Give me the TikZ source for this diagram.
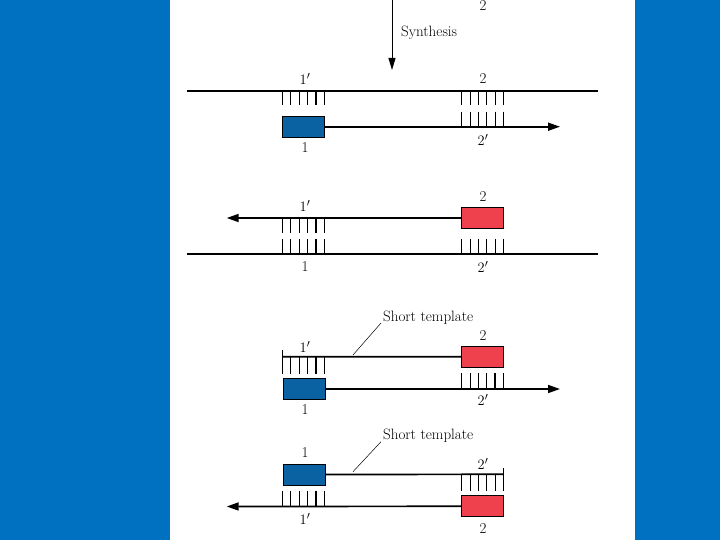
\documentclass[tikz,border=0pt]{standalone}
\usetikzlibrary{arrows.meta}
\definecolor{bgblue}{HTML}{0070C0}
\definecolor{boxblue}{HTML}{0A62A3}
\definecolor{boxred}{HTML}{EF414D}
\tikzset{
  strand/.style={line width=1.7pt},
  thin tk/.style={line width=0.7pt},
  thick tk/.style={line width=1.6pt},
  arr/.style={-{Triangle[length=12pt,width=8pt]}},
  lbl/.style={font=\fontsize{15}{17}\selectfont, inner sep=0pt},
  bbox/.style={draw=black, fill=boxblue, minimum width=42pt, minimum height=21pt, inner sep=0pt, line width=0.7pt},
  rbox/.style={draw=black, fill=boxred, minimum width=42pt, minimum height=21pt, inner sep=0pt, line width=0.7pt},
  leader/.style={line width=0.5pt}
}
\begin{document}
\begin{tikzpicture}[x=1pt,y=-1pt]
\useasboundingbox (0,0) rectangle (720,540);
\fill[bgblue] (0,0) rectangle (720,540);
\fill[white] (170,0) rectangle (635,540);

% ---------- Section 1 ----------
\node[lbl] (top2) at (483,6) {2};
\coordinate (s0) at (392,0);
\coordinate (s1) at (392,70);
\draw[line width=1pt,-{Triangle[length=12pt,width=7pt]}] (s0) -- (s1);
\node[lbl,anchor=west] (synth) at (401,33) {Synthesis};

\coordinate (aL) at (187,90.7);
\coordinate (aR) at (598,90.7);
\draw[strand] (aL) -- (aR);
\node[lbl] (a1p) at (305,79) {$1'$};
\node[lbl] (a2) at (483,79) {2};
\foreach \i/\s in {0/thin tk,1/thin tk,2/thin tk,3/thick tk,4/thick tk,5/thin tk}
  \draw[\s] (282.3+\i*8.4,90.7) -- (282.3+\i*8.4,105);
\foreach \i in {0,...,5}
  \draw[thin tk] (461.7+\i*8.33,90.7) -- (461.7+\i*8.33,105);
\foreach \i in {0,...,5}
  \draw[thin tk] (461.7+\i*8.33,112) -- (461.7+\i*8.33,126.7);
\node[bbox] (b1) at (303.3,126.7) {};
\coordinate (a1end) at (560,126.7);
\draw[strand,arr] (b1.east) -- (a1end);
\node[lbl] (a2p) at (483,140) {$2'$};
\node[lbl] (a1) at (305,148) {1};

% ---------- Section 2 ----------
\node[lbl] (c2) at (483,197) {2};
\node[rbox] (r2) at (482.5,218) {};
\coordinate (c2end) at (226.7,218);
\draw[strand,arr] (r2.west) -- (c2end);
\node[lbl] (c1p) at (305,206) {$1'$};
\foreach \i/\s in {0/thin tk,1/thin tk,2/thin tk,3/thick tk,4/thick tk,5/thin tk}{
  \draw[\s] (282.3+\i*8.4,218) -- (282.3+\i*8.4,233.3);
  \draw[\s] (282.3+\i*8.4,239) -- (282.3+\i*8.4,254.3);}
\foreach \i in {0,...,5}
  \draw[thin tk] (461.7+\i*8.33,239) -- (461.7+\i*8.33,254.3);
\coordinate (cL) at (187,254.3);
\coordinate (cR) at (598,254.3);
\draw[strand] (cL) -- (cR);
\node[lbl] (c1) at (305,267) {1};
\node[lbl] (c2p) at (483,267) {$2'$};

% ---------- Section 3 ----------
\node[lbl,anchor=west] (st3) at (383,318) {Short template};
\coordinate (l3a) at (381,323);
\coordinate (l3b) at (353,355);
\draw[leader] (l3a) -- (l3b);
\node[lbl] (d2) at (483,336) {2};
\node[lbl] (d1p) at (305,347) {$1'$};
\node[rbox] (r3) at (482.5,356.8) {};
\coordinate (d3L) at (282.3,356.7);
\draw[strand] (d3L) -- (r3.west);
\draw[thin tk] (282.3,350) -- (282.3,356.7);
\foreach \i/\s in {0/thin tk,1/thin tk,2/thin tk,3/thick tk,4/thick tk,5/thin tk}
  \draw[\s] (282.3+\i*8.4,356.7) -- (282.3+\i*8.4,374);
\node[bbox] (b3) at (304.3,389) {};
\coordinate (d3end) at (560,389);
\draw[strand,arr] (b3.east) -- (d3end);
\foreach \i/\s in {0/thin tk,1/thin tk,2/thin tk,3/thin tk,4/thick tk,5/thick tk}
  \draw[\s] (461.7+\i*8.33,373.3) -- (461.7+\i*8.33,389);
\node[lbl] (d2p) at (483,400) {$2'$};
\node[lbl] (d1) at (305,410) {1};

% ---------- Section 4 ----------
\node[lbl,anchor=west] (st4) at (383,436) {Short template};
\coordinate (l4a) at (381,441.7);
\coordinate (l4b) at (353,471.7);
\draw[leader] (l4a) -- (l4b);
\node[lbl] (e1) at (305,453) {1};
\node[bbox] (b4) at (304.3,474.5) {};
\coordinate (e4R) at (503.3,474.3);
\draw[strand] (b4.east) -- (e4R);
\draw[thin tk] (503.3,468.3) -- (503.3,474.3);
\node[lbl] (e2p) at (483,464) {$2'$};
\foreach \i in {0,...,5}
  \draw[thin tk] (461.7+\i*8.33,474.3) -- (461.7+\i*8.33,490.7);
\foreach \i/\s in {0/thin tk,1/thin tk,2/thin tk,3/thick tk,4/thick tk,5/thin tk}
  \draw[\s] (282.3+\i*8.4,490.7) -- (282.3+\i*8.4,506.5);
\node[rbox] (r4) at (482.5,506.3) {};
\coordinate (e4end) at (226.7,506.5);
\draw[strand,arr] (r4.west) -- (e4end);
\node[lbl] (e1p) at (305,519) {$1'$};
\node[lbl] (e2) at (483,529) {2};
\end{tikzpicture}
\end{document}
